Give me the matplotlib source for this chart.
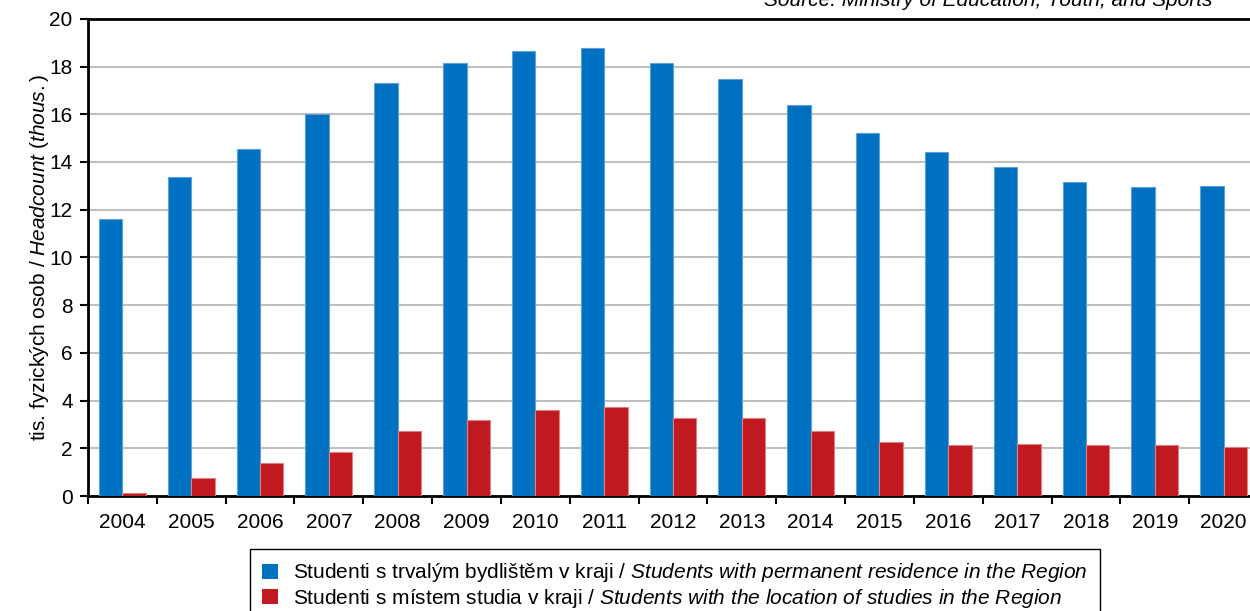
import numpy as np
import matplotlib.pyplot as plt
from matplotlib.patches import Patch

plt.rcParams['font.family'] = ['Liberation Sans', 'DejaVu Sans']
plt.rcParams['mathtext.fontset'] = 'custom'
plt.rcParams['mathtext.rm'] = 'Liberation Sans'
plt.rcParams['mathtext.it'] = 'Liberation Sans:italic'

years = [str(y) for y in range(2004, 2021)]
residence = [11.63, 13.38, 14.53, 16.00, 17.30, 18.14, 18.64, 18.76, 18.13,
             17.48, 16.37, 15.23, 14.42, 13.78, 13.15, 12.94, 12.98]
study_place = [0.12, 0.77, 1.38, 1.85, 2.74, 3.17, 3.61, 3.72, 3.27,
               3.26, 2.72, 2.27, 2.13, 2.19, 2.12, 2.15, 2.05]

label_res = ('Studenti s trvalým bydlištěm v kraji / '
             r'$\mathit{Students\ with\ permanent\ residence\ in\ the\ Region}$')
label_study = ('Studenti s místem studia v kraji / '
               r'$\mathit{Students\ with\ the\ location\ of\ studies\ in\ the\ Region}$')

blue = '#0070C0'
red = '#C01920'
fs = 15

fig = plt.figure(figsize=(12.5, 6.11), dpi=100)
ax = fig.add_axes([0.0704, 0.1882, 0.936, 0.781])

x = np.arange(len(years))
w = 0.34
ax.bar(x - w / 2, residence, w, color=blue, edgecolor='#5fa0d8', linewidth=0.8, zorder=3)
ax.bar(x + w / 2, study_place, w, color=red, edgecolor='#e08080', linewidth=0.8, zorder=3)

ax.set_xlim(-0.5, len(years) - 0.5)
ax.set_ylim(0, 20)
ax.set_yticks(np.arange(0, 21, 2))
ax.set_xticks(x)
ax.set_xticklabels(years)
ax.set_xticks(np.arange(-0.5, len(years), 1), minor=True)
ax.tick_params(axis='x', which='major', length=0, labelsize=fs, pad=12)
ax.tick_params(axis='x', which='minor', length=6, width=1.5, direction='out')
ax.tick_params(axis='y', length=6, width=1.5, labelsize=fs, pad=5)

ax.grid(axis='y', color='#c0c0c0', linewidth=1.5, zorder=0)
ax.set_axisbelow(True)
for side in ['left', 'bottom', 'top']:
    ax.spines[side].set_linewidth(2)
    ax.spines[side].set_color('black')
ax.spines['right'].set_visible(False)

ax.set_ylabel(r'tis. fyzických osob / $\mathit{Headcount\ (thous.)}$', fontsize=fs, labelpad=-1)

fig.text(0.970, 0.990, 'Source: Ministry of Education, Youth, and Sports',
         fontsize=fs, fontstyle='italic', ha='right', va='baseline')

handles = [Patch(facecolor=blue), Patch(facecolor=red)]
fig.legend(handles, [label_res, label_study], loc='upper center',
           bbox_to_anchor=(0.540, 0.1015), ncol=1, fontsize=fs,
           frameon=True, fancybox=False, edgecolor='black', framealpha=1,
           handlelength=0.75, handleheight=0.75, handletextpad=0.75,
           labelspacing=0.12, borderpad=0.6, borderaxespad=0)

fig.savefig('out.png', dpi=100)
